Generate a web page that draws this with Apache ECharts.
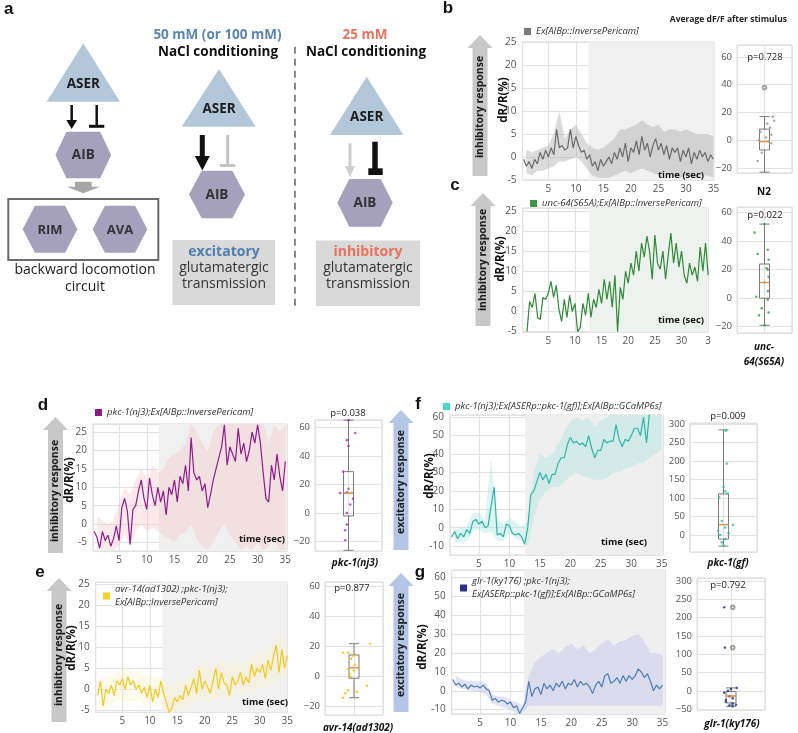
<!DOCTYPE html>
<html>
<head>
<meta charset="utf-8">
<title>AIB calcium responses</title>
<script src="https://cdn.jsdelivr.net/npm/echarts@6/dist/echarts.min.js"></script>
<style>
html, body { margin: 0; padding: 0; background: #fff; }
#chart { width: 798px; height: 733px; }
</style>
</head>
<body>
<div id="chart"></div>
<script>
// traces are sampled every 0.5 s (0.5 .. 35 s), bands every 1 s (1 .. 35 s)
var frameSec = 0.5;
var bandSec = 1;

var nameB = 'Ex[AIBp::InversePericam]';
var nameC = 'unc-64(S65A);Ex[AIBp::InversePericam]';
var nameD = 'pkc-1(nj3);Ex[AIBp::InversePericam]';
var nameE = 'avr-14(ad1302) ;pkc-1(nj3);\nEx[AIBp::InversePericam]';
var nameF = 'pkc-1(nj3);Ex[ASERp::pkc-1(gf)];Ex[AIBp::GCaMP6s]';
var nameG = 'glr-1(ky176) ;pkc-1(nj3);\nEx[ASERp::pkc-1(gf)];Ex[AIBp::GCaMP6s]';

var traceB = [-0.5, -2, -1, -2.5, -0.5, -1.5, 1, -0.5, 1.5, 0,
  2, 0.5, 6, 2, 2.5, 1.5, 2, 6, 2, 4.5,
  2.5, 1, 1.5, -0.5, 0.5, -2, -1, -3, -0.5, -2,
  -1, 0, -1.5, 1, -0.5, 2, 0, 3, -1, 2,
  1, 3.5, 0.5, 4.5, 1.5, 3, 0, 2.5, 4, 1.5,
  3, 0.5, 2.5, -0.5, 2, 1, 2, -1, 1.5, 0,
  2, -1.5, 1, -0.5, 1.5, 0, 1, -1, 0.5, -0.5];
var traceC = [null, -5, 2.5, 1, 4.5, -1.5, -2, 3.5, 3, 4.5,
  7.5, 3.5, 6.5, 0.5, -2.5, 3, -1.5, 4, 0, 2,
  -5, -4, 2, -1, 4.5, -1.5, 3, 1, 5.5, 2,
  8, 3, 7.5, 1, 9, -5, 6, 3, 10, 7,
  12, 9, 15, 10, 17, 13.5, 18.7, 15, 8, 19,
  12, 10.5, 15, 8, 14, 19.5, 12, 17, 11, 15,
  9, 7, 12, 9, 11, 7.5, 16, 10, 17, 9];
var traceD = [-2, -3.5, -6.5, -2, -4.5, -3, -6, -4, -0.5, -4.5,
  4.5, 7, 3.5, -5.5, 4, 5, 9, 12, 7, 4,
  12.5, 8, 5, 10, 6, 9, 2.5, 10, 8, 12,
  6, 13, 11, 16, 9, 23.5, 14, 12, 13, 9,
  11, 4.5, 8, 12, 15, 18, 21, 27, 16, 21,
  19, 17, 26, 19, 22, 17, 20, 25, 22, 27,
  22, 14, 7, 6, 16, 12, 19, 13, 9, 17];
var traceE = [-1.5, 2, -4, 0, -1, 1, -1.5, 2, 1, 2.5,
  0, 3, 1, 2, 0, 1, -1, 0.5, -2, 1,
  -3, 0, -2, 2, -1, -3, -5.5, -4.5, -2, -3,
  -1.5, -2.5, 1, -1.5, 0.5, 2.5, -1, 4.5, 0, 2,
  0.5, -1, 2, 5, 0, 4, 1.5, 1, -1.5, 3,
  1, 2, 4, 1, 3, 1.5, 6, 3, 5, 4,
  6, 2.5, 7, 4.5, 8, 10.5, 4, 9.5, 5, 8];
var traceF = [-5, -2, -6, -3, -5, -1, -3, 3.5, 4.5, 2,
  3.5, 0, 1, 12, 22, -4, -3, -5, 2, 1,
  -3, -4, -3, -5, -9, 0, 18, 20, 25, 30,
  26, 29, 24, 29, 29, 35, 38, 38, 45, 49,
  46, 47, 45, 46, 44, 50, 43, 38, 42, 42,
  48, 46, 47, 47, 56, 48, 44, 48, 47, 50,
  54, 54, 50, 60, 46, 63, 65, 64, 66, 65];
var traceG = [6, 3, 4, 2, 3.5, 1, 3, 2, 2.5, 1.5,
  3, 1, 0, -5, -4, -6, -5, -5.5, -7, -6,
  -9, -8, -12, -9, -6, 5, -3, 1, 2, -2,
  4, 1, 3, 0, 4, 2, 5, 1, 4, 3,
  6, 2, 5, 3, 4, 2, -1.5, 3, 5, 2,
  8, 9, 4, 5, 7, 4, 8, 5, 8, 6,
  8, 11.5, 10, 7, 9, 5, 0, 3, 1, 3];

// shaded error bands (lower / upper edge)
var bandLoB = [-3.5, -4, -3, -3, -2.5, -2, -1, -1, -0.5, 0, -1, -2.5, -4, -4.5, -4.5, -4.5, -4, -3.5, -3, -3.5,
  -3, -2.5, -3, -3.5, -4, -3.5, -3.5, -4, -4.5, -4, -4.5, -4.5, -4, -4, -4.5];
var bandHiB = [1.5, 1, 1.5, 2, 2.5, 5, 10, 4, 6, 7, 5, 3, 2, 1.5, 2, 3, 4, 6, 6, 6.5,
  7, 8, 7, 6.5, 7, 5.5, 6, 6, 5.5, 6, 5.5, 5, 5, 5, 4.5];
var bandLoD = [-7, -7, -7, -7, -6, -3, -6, -2, 0, -2, -1, -2, -3, -4, -5, -3, -2, 0, -4, -6,
  -7, -5, -2, 0, -3, -5, -7, -6, -7, -5, -7, -6, -4, -7, -7];
var bandHiD = [2, 1, 0, 1, 6, 10, 8, 12, 15, 12, 16, 14, 15, 18, 19, 20, 22, 27, 25, 22,
  20, 25, 27, 28, 28, 29, 28, 27, 29, 29, 28, 22, 27, 25, 27];
var bandLoE = [-5, -4, -4, -3, -3, -3, -3, -3, -4, -4, -4, -4, -5.5, -6, -5, -5, -4, -3, -2, -3,
  -3, -2, -2, -3, -2, -1, -1, -1, 0, 0, 1, 1, 2, 3, 3];
var bandHiE = [3, 3, 3, 4, 5, 5, 4, 4, 3, 3, 3, 3, 2, 1, 2, 2, 3, 5, 6, 6,
  5, 7, 7, 6, 6, 7, 6, 8, 8, 9, 10, 10, 12, 13, 12];
var bandLoF = [-8, -8, -7, -2, -1, -3, -2, -7, -7, -3, -6, -7, -10, 5, 15, 20, 22, 22, 25, 28,
  30, 28, 27, 26, 26, 27, 30, 30, 32, 33, 35, 35, 38, 40, 42];
var bandHiF = [-1, 0, 1, 8, 8, 4, 38, 5, 2, 6, 3, 1, 3, 30, 40, 38, 40, 45, 52, 58,
  60, 58, 60, 55, 58, 60, 62, 64, 62, 64, 65, 68, 70, 72, 72];
var bandLoG = [2, 1, 0, 0, -1, -2, -7, -8, -9, -10, -12, -12, -8, -8, -8, -8, -8, -8, -8, -8,
  -8, -8, -8, -8, -8, -8, -8, -8, -8, -8, -8, -8, -8, -8, -8];
var bandHiG = [8, 6, 5, 5, 5, 4, -2, -3, -3, -5, -6, -8, 8, 15, 18, 20, 22, 20, 23, 25,
  22, 24, 20, 22, 25, 27, 24, 26, 27, 29, 30, 26, 20, 20, 19];

// stimulus onset (s) of panels b..g
var stimOnset = [12.3, 12.7, 12.2, 12.3, 12.6, 12.2];

// boxplots: [low whisker, Q1, median, Q3, high whisker]; dots are [jitter, value]
var boxB = [-23, -7, -1, 8, 17];
var boxC = [-19, 0, 11, 24, 52];
var boxD = [-26, -2, 14, 29, 65];
var boxE = [-14, -1, 6, 14.5, 22];
var boxF = [-30, -11, 28, 111, 284];
var boxG = [-42, -33, -14, -2, 8];
var dotsB = [[0.3, 17], [0.35, 14], [0.1, 12], [0.2, 9], [-0.15, 6], [0.25, 4], [0.05, 2], [-0.2, 0],
  [0.15, -1], [0.25, -2], [-0.1, -9], [-0.25, -15]];
var dotsC = [[-0.36, 46], [0.12, 34], [-0.25, 31], [0.15, 27], [0.08, 21], [0.12, 20], [0.15, 15], [0, 11],
  [0.12, 5], [-0.3, 1], [0.12, -1], [-0.1, -7], [0.15, -10], [-0.2, -12], [0, -19], [0, 52]];
var dotsD = [[0, 65], [0.2, 56], [-0.05, 51], [0, 47], [-0.16, 29], [0, 17], [-0.05, 14.5], [-0.25, 14],
  [0.13, 10], [0.05, 6], [-0.05, 0], [-0.05, -8], [-0.1, -12], [-0.1, -19]];
var dotsE = [[0.55, 22], [-0.38, 16], [-0.2, 16], [-0.03, 14], [-0.1, 12], [0.03, 8], [-0.2, 5], [0, 4],
  [-0.15, 2], [-0.1, 0], [0.45, -6], [-0.2, -9], [0.1, -10], [-0.3, -11], [-0.38, -14]];
var dotsF = [[0.07, 282], [0.1, 193], [0, 130], [0.05, 118], [0.13, 112], [-0.13, 102], [-0.05, 38], [0.28, 27],
  [0.05, 20], [-0.16, 12], [0.15, 5], [-0.1, 0], [0.05, -11], [-0.05, -20], [0, -28]];
var dotsG = [[-0.2, 228], [-0.18, 118], [0.17, 8], [0, 5], [-0.09, 0], [-0.2, -5], [-0.05, -15], [0.05, -20],
  [-0.15, -25], [-0.15, -30], [0.05, -35], [0.15, -38], [-0.05, -40], [0.05, -42]];
var outB = [[0, 38]];
var outG = [[0.05, 228], [0.05, 118]];
var pValues = ['p=0.728', 'p=0.022', 'p=0.038', 'p=0.877', 'p=0.009', 'p=0.792'];
var groupLabels = ['N2', 'unc-\n64(S65A)', 'pkc-1(nj3)', 'avr-14(ad1302)', 'pkc-1(gf)', 'glr-1(ky176)'];

var FONT = '"Open Sans", "Noto Sans", sans-serif';
var LETTER = '"Liberation Sans", Arial, sans-serif';

// layout and colours of each panel
var panels = [
  {name: nameB, trace: traceB, lo: bandLoB, hi: bandHiB, box: boxB, dots: dotsB, out: outB,
    grid: [522.5, 42, 192, 138], xr: [0.3, 35.2], yr: [-5, 25], ys: 6, yStep: 5,
    bgrid: [737, 45, 55, 128], byr: [-23.6, 68.6], bys: 5, byStep: 20,
    line: '#6a6a6a', band: 'rgba(160,160,160,0.38)', shade: '#f0f0f0', mark: '#7b7b7b', dot: '#9a9a9a',
    legend: [524, 25]},
  {name: nameC, trace: traceC, lo: null, hi: null, box: boxC, dots: dotsC, out: [],
    grid: [522.7, 208, 185.5, 124], xr: [0.2, 35], yr: [-5.1, 25.7], ys: 6, yStep: 5,
    bgrid: [737, 207, 55, 126], byr: [-24.4, 64], bys: 5, byStep: 20,
    line: '#2f8a37', band: null, shade: '#eef2ee', mark: '#3c9444', dot: '#3aa046',
    legend: [530, 197], cut35: true},
  {name: nameD, trace: traceD, lo: bandLoD, hi: bandHiD, box: boxD, dots: dotsD, out: [],
    grid: [93, 424, 194, 127], xr: [0.3, 35.3], yr: [-7.3, 27.2], ys: 7, yStep: 5,
    bgrid: [315, 420, 67, 131], byr: [-26.5, 65.1], bys: 5, byStep: 20,
    line: '#8e1c8e', band: 'rgba(246,190,190,0.32)', shade: '#f0f0f0', mark: '#8b1a8b', dot: '#b030b0',
    legend: [95, 406]},
  {name: nameE, trace: traceE, lo: bandLoE, hi: bandHiE, box: boxE, dots: dotsE, out: [],
    grid: [95.7, 582.3, 191.6, 130], xr: [0.15, 35], yr: [-5.5, 25.5], ys: 6, yStep: 5,
    bgrid: [325, 582, 58, 133], byr: [-25.5, 63.1], bys: 5, byStep: 20,
    line: '#f2c91a', band: 'rgba(250,240,185,0.28)', shade: '#f1f1f1', mark: '#f6d32a', dot: '#f5c000',
    legend: [103, 583]},
  {name: nameF, trace: traceF, lo: bandLoF, hi: bandHiF, box: boxF, dots: dotsF, out: [],
    grid: [450, 415, 213, 140], xr: [0.25, 35.2], yr: [-14.8, 61.2], ys: 8, yStep: 10,
    bgrid: [690, 423, 67, 129], byr: [-45.9, 302.7], bys: 7, byStep: 50,
    line: '#2bb5a8', band: 'rgba(165,228,222,0.38)', shade: '#efefef', mark: '#46d8c9', dot: '#2cc0b0',
    legend: [443, 400]},
  {name: nameG, trace: traceG, lo: bandLoG, hi: bandHiG, box: boxG, dots: dotsG, out: outG,
    grid: [451.7, 570, 213.3, 144], xr: [0.33, 35.4], yr: [-12.3, 63.9], ys: 8, yStep: 10,
    bgrid: [697, 578, 68, 132], byr: [-52.3, 307.9], bys: 7, byStep: 50,
    line: '#4a7db6', band: 'rgba(200,200,238,0.5)', shade: '#efefef', mark: '#27348b', dot: '#28338f',
    legend: [460, 575]}
];

function timed(values, step) {
  return values.map(function (v, i) { return [+(step * (i + 1)).toFixed(2), v]; });
}
function onStep(v, step) {
  return Math.abs(v / step - Math.round(v / step)) < 1e-6;
}
// error band as one polygon, placed through the axis scales
function bandRenderer(p) {
  return function (params, api) {
    var pts = [];
    for (var i = 0; i < p.hi.length; i++) pts.push(api.coord([bandSec * (i + 1), p.hi[i]]));
    for (var j = p.lo.length - 1; j >= 0; j--) pts.push(api.coord([bandSec * (j + 1), p.lo[j]]));
    var cs = params.coordSys;
    return {type: 'polygon', shape: {points: pts}, style: {fill: p.band},
      clipPath: {type: 'rect', shape: {x: cs.x, y: cs.y, width: cs.width, height: cs.height}}};
  };
}

var option = {
  animation: false,
  backgroundColor: '#ffffff',
  textStyle: {fontFamily: FONT},
  grid: [], xAxis: [], yAxis: [], series: [], legend: [],
  graphic: {elements: []}
};

panels.forEach(function (p, k) {
  option.grid[k] = {left: p.grid[0], top: p.grid[1], width: p.grid[2], height: p.grid[3],
    show: true, borderColor: '#d6d6d6', borderWidth: 1, backgroundColor: 'rgba(0,0,0,0)',
    containLabel: false, outerBoundsMode: 'none'};
  option.grid[6 + k] = {left: p.bgrid[0], top: p.bgrid[1], width: p.bgrid[2], height: p.bgrid[3],
    show: true, borderColor: '#d6d6d6', borderWidth: 1, backgroundColor: 'rgba(0,0,0,0)',
    containLabel: false, outerBoundsMode: 'none'};

  option.xAxis[k] = {gridIndex: k, type: 'value', min: p.xr[0], max: p.xr[1], splitNumber: 7,
    axisLine: {show: false}, axisTick: {show: false},
    axisLabel: {fontSize: 10, color: '#555', margin: 4, fontFamily: FONT,
      formatter: function (v) {
        if (!onStep(v, 5) || v <= 0) return '';
        if (p.cut35 && Math.round(v) === 35) return '3';
        return String(Math.round(v));
      }},
    splitLine: {show: true, lineStyle: {color: '#e2e2e2', width: 1}}};
  option.yAxis[k] = {gridIndex: k, type: 'value', min: p.yr[0], max: p.yr[1], splitNumber: p.ys,
    axisLine: {show: false}, axisTick: {show: false},
    axisLabel: {fontSize: 10, color: '#555', margin: 6, fontFamily: FONT,
      formatter: function (v) { return onStep(v, p.yStep) ? String(Math.round(v)) : ''; }},
    splitLine: {show: true, lineStyle: {color: '#e2e2e2', width: 1}}};

  option.xAxis[6 + k] = {gridIndex: 6 + k, type: 'category', data: [''], show: false};
  option.xAxis[12 + k] = {gridIndex: 6 + k, type: 'value', position: 'top', min: -1, max: 1, interval: 1,
    axisLine: {show: false}, axisTick: {show: false}, axisLabel: {show: false},
    splitLine: {show: true, lineStyle: {color: '#e2e2e2'}}};
  option.yAxis[6 + k] = {gridIndex: 6 + k, type: 'value', min: p.byr[0], max: p.byr[1], splitNumber: p.bys,
    axisLine: {show: false}, axisTick: {show: false},
    axisLabel: {fontSize: 9.5, color: '#555', margin: 5, fontFamily: FONT,
      formatter: function (v) {
        if (!onStep(v, p.byStep)) return '';
        var r = Math.round(v);
        return r < 0 ? '\u2212' + (-r) : String(r);
      }},
    splitLine: {show: true, lineStyle: {color: '#e2e2e2'}}};

  // stimulus shading lives on a helper series under everything else
  option.series.push({type: 'line', name: 'shade' + k, xAxisIndex: k, yAxisIndex: k, data: [], silent: true,
    z: 0, markArea: {silent: true, z: 0, itemStyle: {color: p.shade},
      data: [[{xAxis: stimOnset[k]}, {xAxis: p.xr[1]}]]}});

  if (p.lo) {
    option.series.push({type: 'custom', name: 'band' + k, xAxisIndex: k, yAxisIndex: k,
      data: [[bandSec, p.lo[0]]], silent: true, z: 1, renderItem: bandRenderer(p)});
  }
  option.series.push({type: 'line', name: p.name, xAxisIndex: k, yAxisIndex: k,
    data: timed(p.trace, frameSec), symbol: 'none', connectNulls: false,
    itemStyle: {color: p.mark}, lineStyle: {color: p.line, width: 1.2}, z: 3, emphasis: {disabled: true}});

  option.series.push({type: 'boxplot', name: 'box' + k, xAxisIndex: 6 + k, yAxisIndex: 6 + k,
    data: [p.box], boxWidth: [10, 10], silent: true, z: 3,
    itemStyle: {color: 'rgba(255,255,255,0)', borderColor: '#7a7a7a', borderWidth: 1},
    emphasis: {disabled: true}});
  option.series.push({type: 'scatter', name: 'dots' + k, xAxisIndex: 12 + k, yAxisIndex: 6 + k,
    data: p.dots, symbolSize: 2.6, silent: true, z: 4, itemStyle: {color: p.dot}});
  option.series.push({type: 'scatter', name: 'median' + k, xAxisIndex: 12 + k, yAxisIndex: 6 + k,
    data: [[0, p.box[2]]], symbol: 'rect', symbolSize: [10, 1.5], silent: true, z: 5,
    itemStyle: {color: '#f29a45'}});
  if (p.out.length) {
    option.series.push({type: 'scatter', name: 'out' + k, xAxisIndex: 12 + k, yAxisIndex: 6 + k,
      data: p.out, symbol: 'emptyCircle', symbolSize: 3.6, silent: true, z: 5,
      itemStyle: {color: '#8a8a8a', borderColor: '#8a8a8a', borderWidth: 0.8}});
  }

  option.legend.push({left: p.legend[0], top: p.legend[1], padding: 0, icon: 'rect',
    itemWidth: 7, itemHeight: 7, selectedMode: false,
    data: [{name: p.name, itemStyle: {color: p.mark}}],
    textStyle: {fontFamily: FONT, fontStyle: 'italic', fontSize: 9.5, color: '#333', lineHeight: 13}});
});

// ---------- drawing helpers for the annotation layer ----------
function txt(x, y, s, size, o) {
  o = o || {};
  var font = (o.italic ? 'italic ' : '') + (o.bold ? 'bold ' : '') + size + 'px ' + (o.family || FONT);
  return {type: 'text', x: x, y: y, rotation: o.rot || 0, z: 100, silent: true,
    style: {text: s, font: font, fill: o.color || '#222', lineHeight: o.lh || Math.round(size * 1.4),
      align: o.align || 'center', verticalAlign: 'middle',
      textAlign: o.align || 'center', textVerticalAlign: 'middle'}};
}
function poly(points, fill) {
  return {type: 'polygon', z: 90, silent: true, shape: {points: points}, style: {fill: fill}};
}
function seg(x1, y1, x2, y2, color, w, dash) {
  var st = {stroke: color, lineWidth: w};
  if (dash) st.lineDash = dash;
  return {type: 'line', z: 90, silent: true, shape: {x1: x1, y1: y1, x2: x2, y2: y2}, style: st};
}
function rectEl(x, y, w, h, fill, stroke, lw) {
  var st = {fill: fill || 'none'};
  if (stroke) { st.stroke = stroke; st.lineWidth = lw; }
  return {type: 'rect', z: 80, silent: true, shape: {x: x, y: y, width: w, height: h}, style: st};
}
function hexagon(cx, cy, w, h, inset, fill) {
  return poly([[cx - w / 2, cy], [cx - w / 2 + inset, cy - h / 2], [cx + w / 2 - inset, cy - h / 2],
    [cx + w / 2, cy], [cx + w / 2 - inset, cy + h / 2], [cx - w / 2 + inset, cy + h / 2]], fill);
}
function upArrow(cx, tip, bottom, sw, hw, hh, fill) {
  return poly([[cx, tip], [cx + hw, tip + hh], [cx + sw, tip + hh], [cx + sw, bottom],
    [cx - sw, bottom], [cx - sw, tip + hh], [cx - hw, tip + hh]], fill);
}

var g = option.graphic.elements;
var TRI = '#b2c8da', HEX = '#a5a1bd', BOXG = '#d9d9d9';
var BLUE = '#5b86b0', SALMON = '#e5735d';

// ---------- panel a ----------
g.push(txt(4, 9, 'a', 17, {bold: true, family: LETTER, align: 'left', color: '#111'}));
g.push(poly([[83.3, 43.3], [46.7, 101.7], [120, 101.7]], TRI));
g.push(txt(83.3, 84, 'ASER', 13.5, {bold: true, color: '#1c1c1c'}));
g.push(seg(71.7, 105, 71.7, 121, '#111', 2.5));
g.push(poly([[66.3, 120], [77.1, 120], [71.7, 129]], '#111'));
g.push(seg(96.7, 105, 96.7, 125, '#111', 2.5));
g.push(seg(89, 126.3, 104.3, 126.3, '#111', 3));
g.push(hexagon(83.3, 155, 55.7, 46.6, 11, HEX));
g.push(txt(83.3, 155.5, 'AIB', 13.5, {bold: true, color: '#333'}));
g.push(poly([[75, 181.7], [91.7, 181.7], [91.7, 186.7], [100, 186.7], [83.3, 193.3], [66.7, 186.7], [75, 186.7]], '#a6a6a6'));
g.push(rectEl(8.3, 199, 150, 61, 'none', '#6b6b6b', 2));
g.push(hexagon(50, 229.3, 54.7, 47, 12.3, HEX));
g.push(txt(50, 229.8, 'RIM', 13, {bold: true, color: '#333'}));
g.push(hexagon(120, 229.3, 54.7, 47, 12.3, HEX));
g.push(txt(120, 229.8, 'AVA', 13, {bold: true, color: '#333'}));
g.push(txt(85, 270.5, 'backward locomotion', 14, {color: '#222'}));
g.push(txt(85, 287, 'circuit', 14, {color: '#222'}));

g.push(txt(217.5, 35, '50 mM (or 100 mM)', 13.5, {bold: true, color: BLUE}));
g.push(txt(218, 52, 'NaCl conditioning', 13.5, {bold: true, color: '#111'}));
g.push(poly([[219, 69], [181.7, 126.7], [255.7, 126.7]], TRI));
g.push(txt(219, 109, 'ASER', 13.5, {bold: true, color: '#1c1c1c'}));
g.push(poly([[199.8, 135], [204.8, 135], [204.8, 156], [209.8, 156], [202.3, 170.5], [194.8, 156], [199.8, 156]], '#111'));
g.push(seg(227.7, 135, 227.7, 164, '#c4c4c4', 3));
g.push(seg(220, 165.5, 235.3, 165.5, '#c4c4c4', 3));
g.push(hexagon(217, 194.5, 56, 47.6, 12.7, HEX));
g.push(txt(217, 195, 'AIB', 13.5, {bold: true, color: '#333'}));
g.push(rectEl(172.3, 240, 102.7, 65, BOXG));
g.push(txt(224, 252, 'excitatory', 14, {bold: true, color: '#4f7eae'}));
g.push(txt(224, 268.5, 'glutamatergic', 14, {color: '#333'}));
g.push(txt(224, 284.5, 'transmission', 14, {color: '#333'}));

g.push(seg(295, 46.7, 295, 308, '#8a8a8a', 2, [7, 5]));

g.push(txt(365, 35, '25 mM', 13.5, {bold: true, color: SALMON}));
g.push(txt(366, 52, 'NaCl conditioning', 13.5, {bold: true, color: '#111'}));
g.push(poly([[366.7, 76.7], [330, 135], [403.4, 135]], TRI));
g.push(txt(366.7, 117, 'ASER', 13.5, {bold: true, color: '#1c1c1c'}));
g.push(seg(350, 143.3, 350, 167, '#cfcfcf', 3));
g.push(poly([[345, 166], [355, 166], [350, 177]], '#cfcfcf'));
g.push(seg(375, 141.7, 375, 169, '#111', 5.5));
g.push(rectEl(368.3, 168.3, 14.4, 6.7, '#111'));
g.push(hexagon(365, 202.8, 55.4, 47.7, 12, HEX));
g.push(txt(365, 203.3, 'AIB', 13.5, {bold: true, color: '#333'}));
g.push(rectEl(316, 240.5, 104, 65.5, BOXG));
g.push(txt(368, 252, 'inhibitory', 14, {bold: true, color: SALMON}));
g.push(txt(368, 268.5, 'glutamatergic', 14, {color: '#333'}));
g.push(txt(368, 284.5, 'transmission', 14, {color: '#333'}));

// ---------- panel letters & side arrows ----------
[['b', 448, 8], ['c', 455, 185], ['d', 43, 405], ['e', 40, 572], ['f', 418, 404], ['g', 420, 572]].forEach(function (l) {
  g.push(txt(l[1], l[2], l[0], 17, {bold: true, family: LETTER, color: '#111'}));
});
g.push(txt(787, 20, 'Average dF/F after stimulus', 8.5, {bold: true, align: 'right', color: '#222'}));

var GREYARR = '#c8c8c8', BLUEARR = '#b3c6e6';
var arrows = [
  [480, 35, 176, 107, GREYARR, 'inhibitory response'],
  [483, 193, 326, 260, GREYARR, 'inhibitory response'],
  [55.5, 417, 553, 491, GREYARR, 'inhibitory response'],
  [59, 578, 722, 655, GREYARR, 'inhibitory response'],
  [401, 410, 550, 482, BLUEARR, 'excitatory response'],
  [401, 573, 712, 645, BLUEARR, 'excitatory response']
];
arrows.forEach(function (a) {
  g.push(upArrow(a[0], a[1], a[2], 7.5, 12.5, 13, a[4]));
  g.push(txt(a[0], a[3], a[5], 10.5, {bold: true, rot: Math.PI / 2, color: '#1a1a1a'}));
});

// axis titles
[[504, 100], [501, 259], [70, 480], [72, 648], [430, 476], [423, 647]].forEach(function (t) {
  g.push(txt(t[0], t[1], 'dR/R(%)', 11.5, {bold: true, rot: Math.PI / 2, color: '#111'}));
});
[[681, 175], [681, 320], [262, 539], [265, 702], [624, 542]].forEach(function (t) {
  g.push(txt(t[0], t[1], 'time (sec)', 9.5, {bold: true, color: '#111'}));
});

// boxplot annotations
var pPos = [[765, 57], [765, 215], [348, 413], [352, 588], [728, 416], [728, 585]];
pPos.forEach(function (pp, i) { g.push(txt(pp[0], pp[1], pValues[i], 9.5, {color: '#222'})); });
g.push(txt(764, 192, groupLabels[0], 10, {bold: true, color: '#111'}));
g.push(txt(764, 354.5, groupLabels[1], 10, {bold: true, italic: true, color: '#111', lh: 15}));
g.push(txt(355, 563, groupLabels[2], 10, {bold: true, italic: true, color: '#111'}));
g.push(txt(358, 728, groupLabels[3], 10, {bold: true, italic: true, color: '#111'}));
g.push(txt(728, 563, groupLabels[4], 10, {bold: true, italic: true, color: '#111'}));
g.push(txt(732, 724, groupLabels[5], 10, {bold: true, italic: true, color: '#111'}));

var chart = echarts.init(document.getElementById('chart'), null, {renderer: 'canvas'});
chart.setOption(option);
</script>
</body>
</html>
